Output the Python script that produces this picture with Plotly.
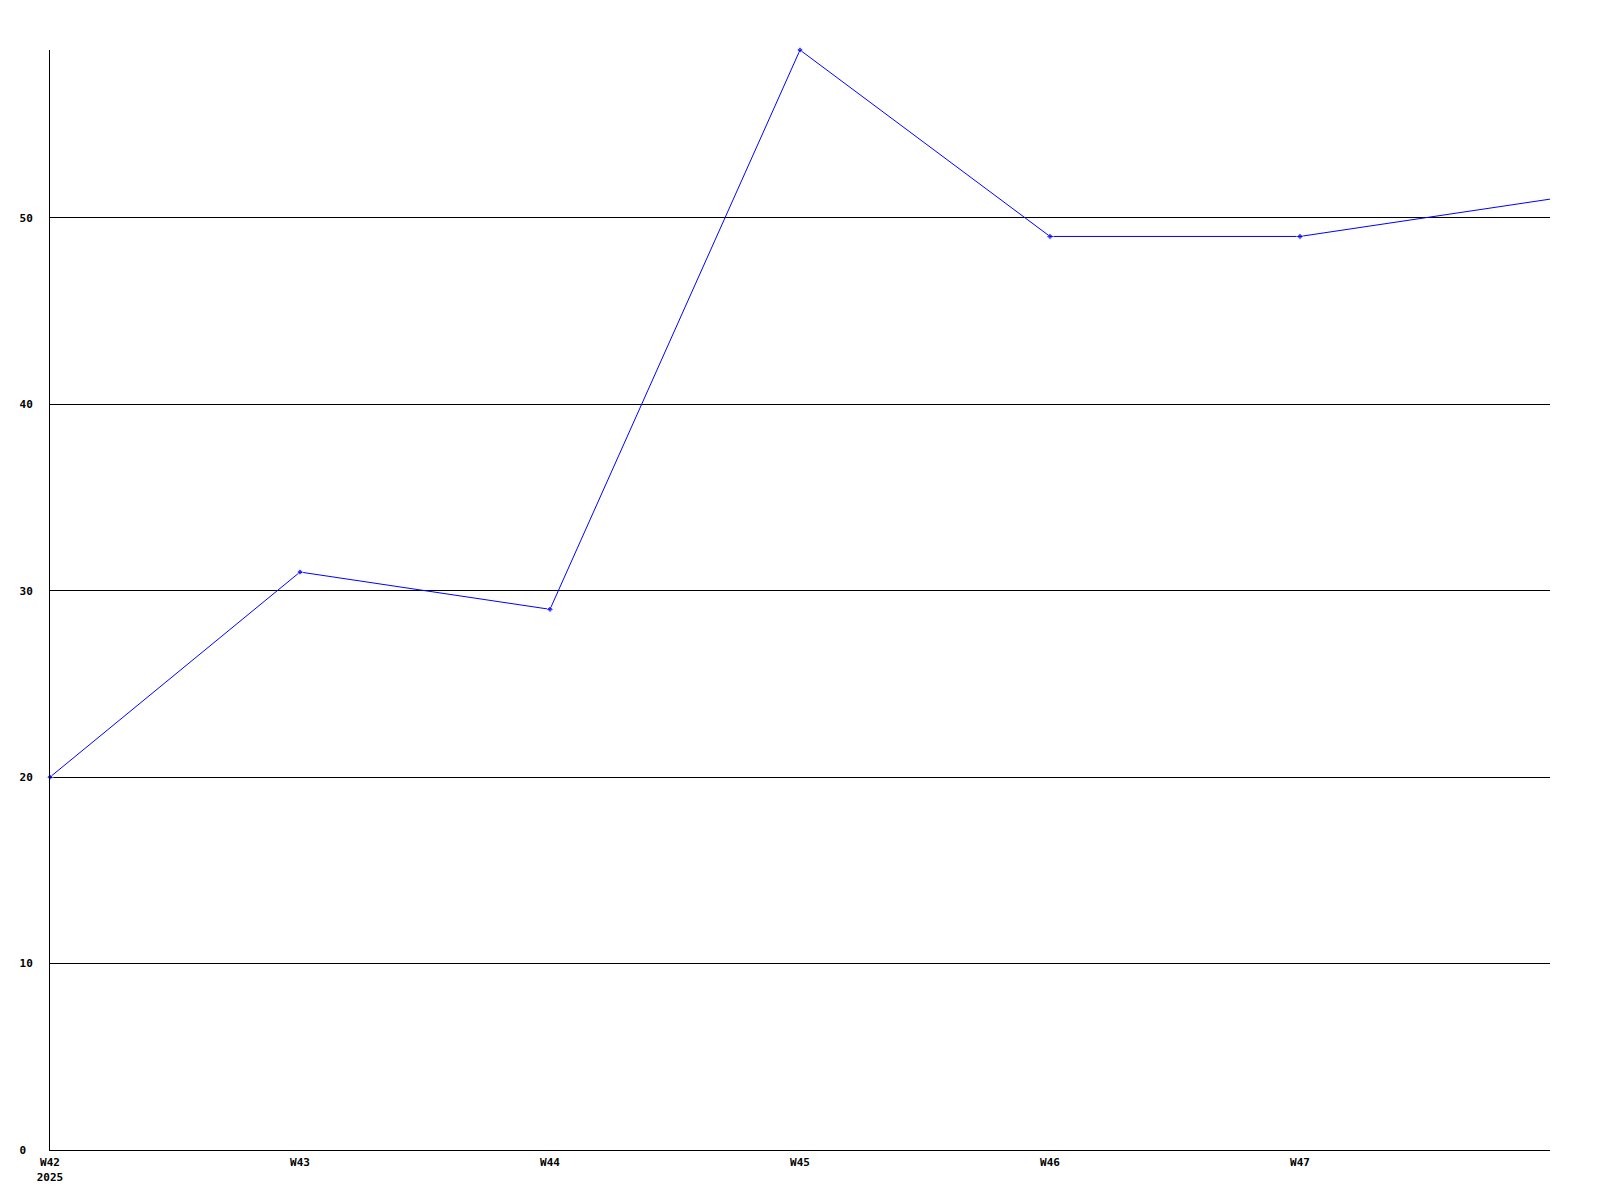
import plotly.graph_objects as go

weeks = ["W42", "W43", "W44", "W45", "W46", "W47", "W48"]
values = [20, 31, 29, 59, 49, 49, 51]
xtick_labels = ["W42<br>2025", "W43", "W44", "W45", "W46", "W47"]
ytick_vals = [0, 10, 20, 30, 40, 50]
ytick_text = ["0\u00a0", "10", "20", "30", "40", "50"]

font = dict(family="DejaVu Sans Mono", size=11, color="black", weight="bold")

# last point sits on the plot edge and has no visible marker in the reference
marker_sizes = [5] * (len(values) - 1) + [0]

fig = go.Figure()
fig.add_trace(go.Scatter(
    x=weeks, y=values, mode="lines+markers",
    line=dict(color="#0000ff", width=1),
    marker=dict(color="#0000ff", size=marker_sizes, symbol="diamond"),
    cliponaxis=False,
))
fig.update_layout(
    width=1600, height=1200,
    margin=dict(l=42, r=58, t=42, b=58),
    paper_bgcolor="white", plot_bgcolor="white",
    showlegend=False,
    font=font,
)
fig.update_xaxes(
    type="category", range=[0, 6],
    tickvals=weeks[:6], ticktext=xtick_labels,
    showgrid=False, zeroline=False,
    showline=True, linecolor="black", linewidth=1,
    ticks="", tickfont=font, ticklabelstandoff=2,
)
fig.update_yaxes(
    range=[0, 59],
    tickvals=ytick_vals, ticktext=ytick_text,
    showgrid=True, gridcolor="black", gridwidth=1,
    zeroline=False,
    showline=True, linecolor="black", linewidth=1,
    ticks="", tickfont=font, ticklabelstandoff=14,
)
fig.write_html("out.html")
